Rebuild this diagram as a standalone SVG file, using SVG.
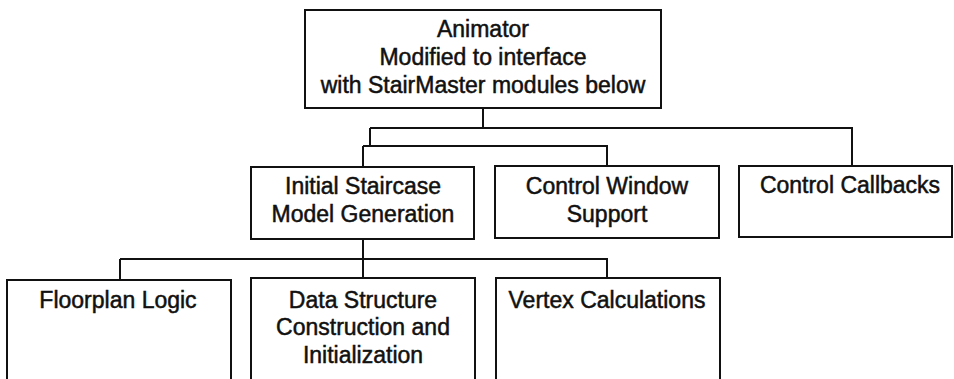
<svg xmlns="http://www.w3.org/2000/svg" width="954" height="379" viewBox="0 0 954 379">
<style>
.box{fill:#fff;stroke:#111;stroke-width:2}
.conn{fill:none;stroke:#111;stroke-width:2}
text{font-family:"Liberation Sans",Arial,sans-serif;font-size:23px;fill:#111;stroke:#111;stroke-width:0.5;text-anchor:middle}
</style>
<rect width="954" height="379" fill="#fff"/>
<g id="connectors">
<path class="conn" d="M483,108 V128 M370,128 H852 V166 M370,128 V146 M363,146 H607 V166 M363,146 V167"/>
<path class="conn" d="M363,239 V278 M120,259 H607 V278 M120,259 V280"/>
</g>
<g id="animator">
<rect class="box" x="305" y="10" width="356" height="98"/>
<text x="483" y="37">Animator</text>
<text x="483" y="65">Modified to interface</text>
<text x="483" y="93">with StairMaster modules below</text>
</g>
<g id="initial-staircase">
<rect class="box" x="251" y="167" width="223" height="72"/>
<text x="363" y="194">Initial Staircase</text>
<text x="363" y="222">Model Generation</text>
</g>
<g id="control-window">
<rect class="box" x="495" y="166" width="224" height="72"/>
<text x="607" y="194">Control Window</text>
<text x="607" y="222">Support</text>
</g>
<g id="control-callbacks">
<rect class="box" x="739" y="166" width="213" height="71"/>
<text x="850" y="193">Control Callbacks</text>
</g>
<g id="floorplan">
<rect class="box" x="7" y="280" width="224" height="120"/>
<text x="118" y="308">Floorplan Logic</text>
</g>
<g id="data-structure">
<rect class="box" x="251" y="278" width="224" height="120"/>
<text x="363" y="308">Data Structure</text>
<text x="363" y="335">Construction and</text>
<text x="363" y="363">Initialization</text>
</g>
<g id="vertex">
<rect class="box" x="496" y="278" width="224" height="120"/>
<text x="607" y="308">Vertex Calculations</text>
</g>
</svg>
